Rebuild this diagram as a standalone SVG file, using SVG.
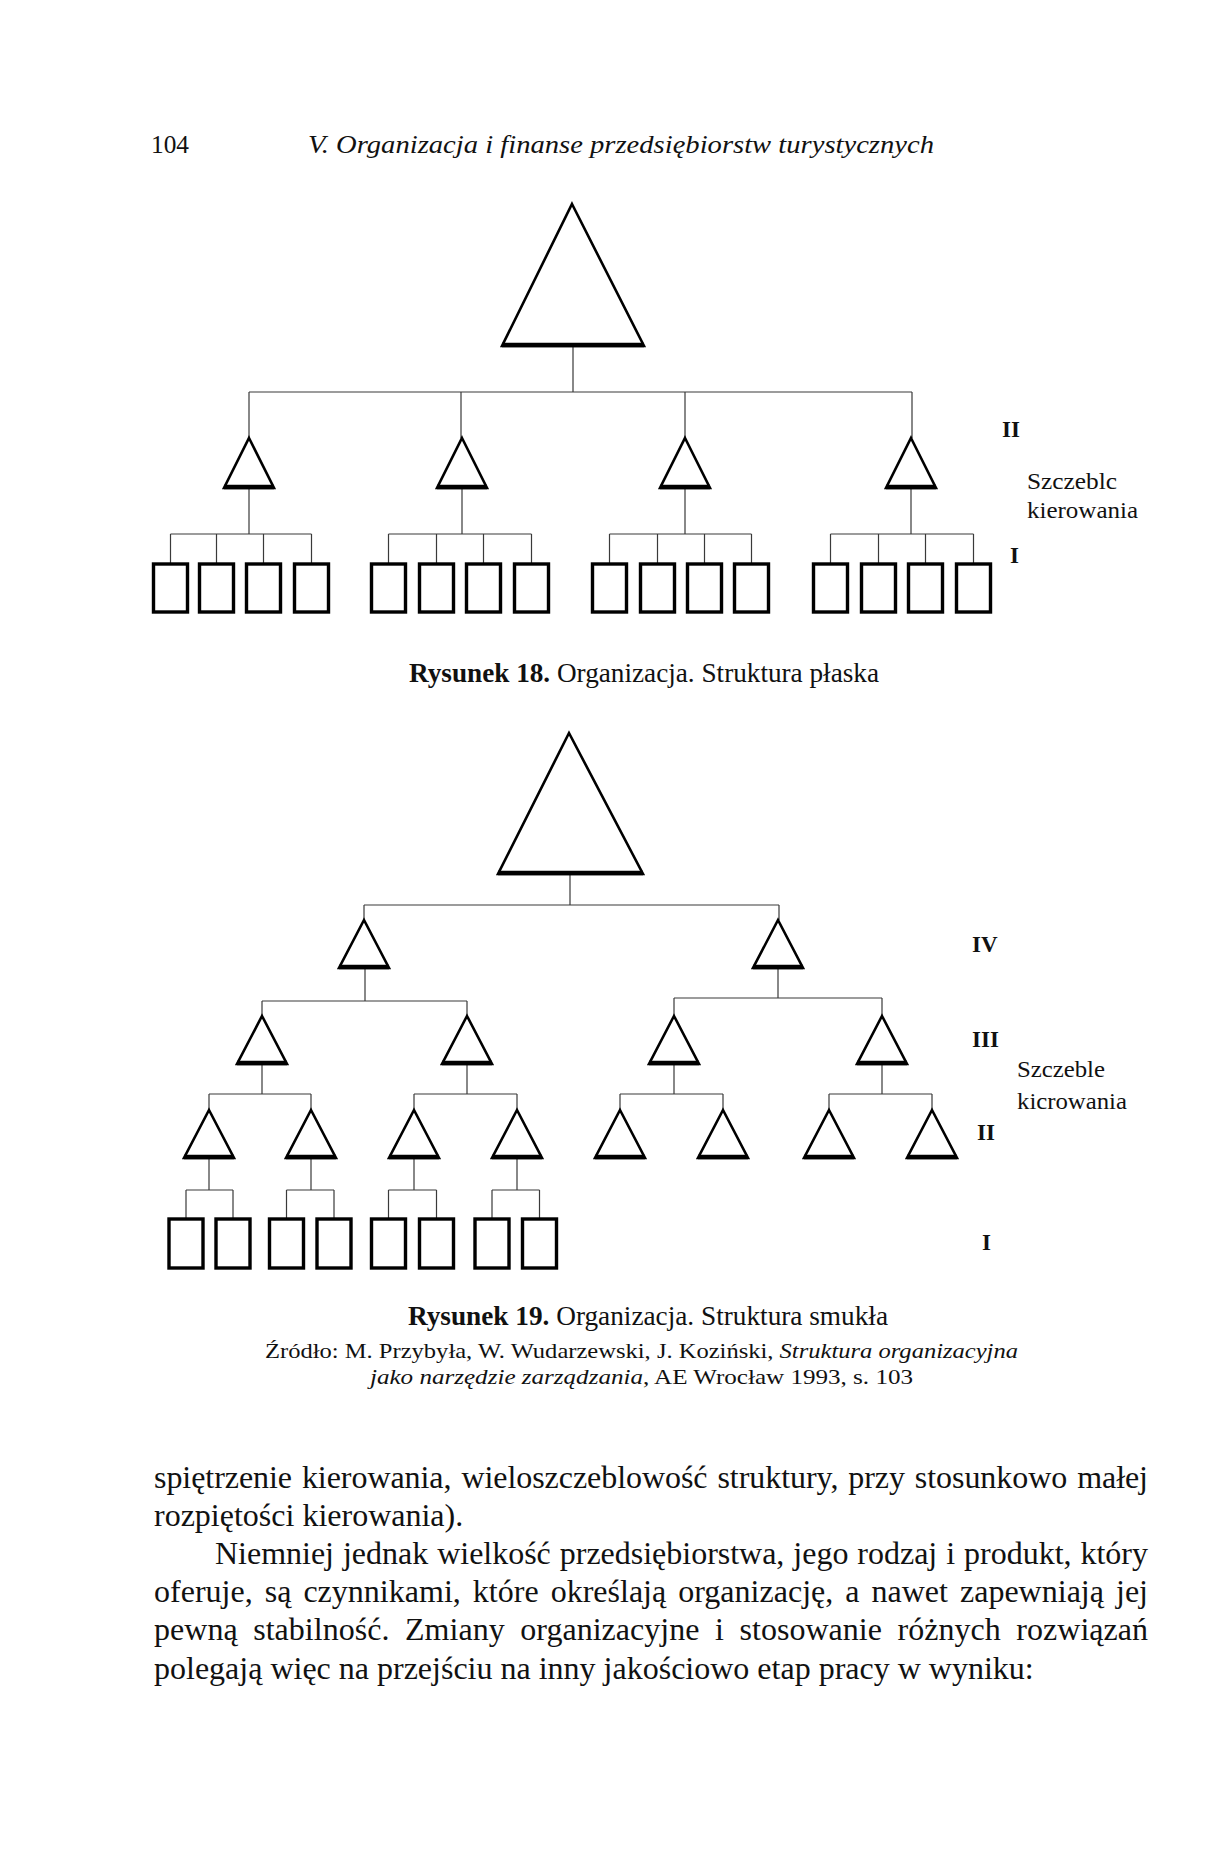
<svg xmlns="http://www.w3.org/2000/svg" width="1208" height="1857" viewBox="0 0 1208 1857">
<style>
text{font-family:"Liberation Serif","Times New Roman",serif;fill:#111}
.hdr{font-size:25px}
.it{font-style:italic}
.b{font-weight:bold}
.lvl{font-size:23px;font-weight:bold}
.lab{font-size:24px}
.cap{font-size:27px}
.src{font-size:22px}
.body{font-size:32px}
.tri{fill:#fff;stroke:#000;stroke-width:2.6;stroke-linejoin:miter}
.base{stroke:#000;stroke-width:4.5}
.box{fill:#fff;stroke:#000;stroke-width:3.4}
.con{fill:none;stroke:#3a3a3a;stroke-width:1.2}
</style>
<rect width="1208" height="1857" fill="#fff"/>

<!-- Header -->
<text class="hdr" x="151" y="153" textLength="38" lengthAdjust="spacingAndGlyphs">104</text>
<text class="hdr it" x="308" y="153" textLength="626" lengthAdjust="spacingAndGlyphs">V. Organizacja i finanse przedsiębiorstw turystycznych</text>

<!-- ===== Figure 18 ===== -->
<g id="fig18-connectors">
  <path class="con" d="M573 346V392M249 392H912M249 392V438M461 392V438M685 392V438M912 392V438"/>
  <path class="con" d="M249 488V534M170.5 534H311.5M170.5 534V564M216.5 534V564M263.5 534V564M311.5 534V564"/>
  <path class="con" d="M462 488V534M388.5 534H531.5M388.5 534V564M436.5 534V564M483.5 534V564M531.5 534V564"/>
  <path class="con" d="M685 488V534M609.5 534H751.5M609.5 534V564M657.5 534V564M704.5 534V564M751.5 534V564"/>
  <path class="con" d="M911 488V534M830.5 534H973.5M830.5 534V564M878.5 534V564M925.5 534V564M973.5 534V564"/>
</g>
<g id="f18-top"><polygon class="tri" points="572,204 644,346 502,346"/><line class="base" x1="502" y1="345" x2="644" y2="345"/></g>
<g id="f18-t1"><polygon class="tri" points="249,438 274,488 224,488"/><line class="base" x1="224" y1="487" x2="274" y2="487"/></g>
<g id="f18-t2"><polygon class="tri" points="462,438 487,488 437,488"/><line class="base" x1="437" y1="487" x2="487" y2="487"/></g>
<g id="f18-t3"><polygon class="tri" points="685,438 710,488 660,488"/><line class="base" x1="660" y1="487" x2="710" y2="487"/></g>
<g id="f18-t4"><polygon class="tri" points="911,438 936,488 886,488"/><line class="base" x1="886" y1="487" x2="936" y2="487"/></g>
<g id="f18-boxes">
  <rect class="box" x="153.5" y="564" width="34" height="48"/>
  <rect class="box" x="199.5" y="564" width="34" height="48"/>
  <rect class="box" x="246.5" y="564" width="34" height="48"/>
  <rect class="box" x="294.5" y="564" width="34" height="48"/>
  <rect class="box" x="371.5" y="564" width="34" height="48"/>
  <rect class="box" x="419.5" y="564" width="34" height="48"/>
  <rect class="box" x="466.5" y="564" width="34" height="48"/>
  <rect class="box" x="514.5" y="564" width="34" height="48"/>
  <rect class="box" x="592.5" y="564" width="34" height="48"/>
  <rect class="box" x="640.5" y="564" width="34" height="48"/>
  <rect class="box" x="687.5" y="564" width="34" height="48"/>
  <rect class="box" x="734.5" y="564" width="34" height="48"/>
  <rect class="box" x="813.5" y="564" width="34" height="48"/>
  <rect class="box" x="861.5" y="564" width="34" height="48"/>
  <rect class="box" x="908.5" y="564" width="34" height="48"/>
  <rect class="box" x="956.5" y="564" width="34" height="48"/>
</g>
<g id="f18-labels">
  <text class="lvl" x="1002" y="437">II</text>
  <text class="lab" x="1027" y="489" textLength="90" lengthAdjust="spacingAndGlyphs">Szczeblc</text>
  <text class="lab" x="1027" y="518" textLength="111" lengthAdjust="spacingAndGlyphs">kierowania</text>
  <text class="lvl" x="1010" y="563">I</text>
</g>
<text class="cap" x="409" y="682" textLength="470" lengthAdjust="spacingAndGlyphs"><tspan class="b">Rysunek 18.</tspan> Organizacja. Struktura płaska</text>

<!-- ===== Figure 19 ===== -->
<g id="fig19-connectors">
  <path class="con" d="M570 874V905M364 905H779M364 905V920M779 905V920"/>
  <path class="con" d="M365 968V1001M262 1001H467M262 1001V1016M467 1001V1016"/>
  <path class="con" d="M778 968V998M674 998H882M674 998V1016M882 998V1016"/>
  <path class="con" d="M262 1064V1094M209 1094H311M209 1094V1110M311 1094V1110"/>
  <path class="con" d="M467 1064V1094M414 1094H517M414 1094V1110M517 1094V1110"/>
  <path class="con" d="M674 1064V1094M620 1094H723M620 1094V1110M723 1094V1110"/>
  <path class="con" d="M882 1064V1094M829 1094H932M829 1094V1110M932 1094V1110"/>
  <path class="con" d="M209 1158V1190M186 1190H233M186 1190V1219M233 1190V1219"/>
  <path class="con" d="M311 1158V1190M286.5 1190H334M286.5 1190V1219M334 1190V1219"/>
  <path class="con" d="M414 1158V1190M388.5 1190H436.5M388.5 1190V1219M436.5 1190V1219"/>
  <path class="con" d="M517 1158V1190M492 1190H539.5M492 1190V1219M539.5 1190V1219"/>
</g>
<g id="f19-top"><polygon class="tri" points="569,733 643,874 498,874"/><line class="base" x1="498" y1="873" x2="643" y2="873"/></g>
<g id="f19-iv1"><polygon class="tri" points="364,920 389,968 339,968"/><line class="base" x1="339" y1="967" x2="389" y2="967"/></g>
<g id="f19-iv2"><polygon class="tri" points="778,920 803,968 753,968"/><line class="base" x1="753" y1="967" x2="803" y2="967"/></g>
<g id="f19-iii1"><polygon class="tri" points="262,1016 287,1064 237,1064"/><line class="base" x1="237" y1="1063" x2="287" y2="1063"/></g>
<g id="f19-iii2"><polygon class="tri" points="467,1016 492,1064 442,1064"/><line class="base" x1="442" y1="1063" x2="492" y2="1063"/></g>
<g id="f19-iii3"><polygon class="tri" points="674,1016 699,1064 649,1064"/><line class="base" x1="649" y1="1063" x2="699" y2="1063"/></g>
<g id="f19-iii4"><polygon class="tri" points="882,1016 907,1064 857,1064"/><line class="base" x1="857" y1="1063" x2="907" y2="1063"/></g>
<g id="f19-ii1"><polygon class="tri" points="209,1110 234,1158 184,1158"/><line class="base" x1="184" y1="1157" x2="234" y2="1157"/></g>
<g id="f19-ii2"><polygon class="tri" points="311,1110 336,1158 286,1158"/><line class="base" x1="286" y1="1157" x2="336" y2="1157"/></g>
<g id="f19-ii3"><polygon class="tri" points="414,1110 439,1158 389,1158"/><line class="base" x1="389" y1="1157" x2="439" y2="1157"/></g>
<g id="f19-ii4"><polygon class="tri" points="517,1110 542,1158 492,1158"/><line class="base" x1="492" y1="1157" x2="542" y2="1157"/></g>
<g id="f19-ii5"><polygon class="tri" points="620,1110 645,1158 595,1158"/><line class="base" x1="595" y1="1157" x2="645" y2="1157"/></g>
<g id="f19-ii6"><polygon class="tri" points="723,1110 748,1158 698,1158"/><line class="base" x1="698" y1="1157" x2="748" y2="1157"/></g>
<g id="f19-ii7"><polygon class="tri" points="829,1110 854,1158 804,1158"/><line class="base" x1="804" y1="1157" x2="854" y2="1157"/></g>
<g id="f19-ii8"><polygon class="tri" points="932,1110 957,1158 907,1158"/><line class="base" x1="907" y1="1157" x2="957" y2="1157"/></g>
<g id="f19-boxes">
  <rect class="box" x="169" y="1219" width="34" height="49"/>
  <rect class="box" x="216" y="1219" width="34" height="49"/>
  <rect class="box" x="269.5" y="1219" width="34" height="49"/>
  <rect class="box" x="317" y="1219" width="34" height="49"/>
  <rect class="box" x="371.5" y="1219" width="34" height="49"/>
  <rect class="box" x="419.5" y="1219" width="34" height="49"/>
  <rect class="box" x="475" y="1219" width="34" height="49"/>
  <rect class="box" x="522.5" y="1219" width="34" height="49"/>
</g>
<g id="f19-labels">
  <text class="lvl" x="972" y="952">IV</text>
  <text class="lvl" x="972" y="1047">III</text>
  <text class="lab" x="1017" y="1077" textLength="88" lengthAdjust="spacingAndGlyphs">Szczeble</text>
  <text class="lab" x="1017" y="1109" textLength="110" lengthAdjust="spacingAndGlyphs">kicrowania</text>
  <text class="lvl" x="977" y="1140">II</text>
  <text class="lvl" x="982" y="1250">I</text>
</g>
<text class="cap" x="408" y="1325" textLength="480" lengthAdjust="spacingAndGlyphs"><tspan class="b">Rysunek 19.</tspan> Organizacja. Struktura smukła</text>
<text class="src" x="265" y="1358" textLength="753" lengthAdjust="spacingAndGlyphs">Źródło: M. Przybyła, W. Wudarzewski, J. Koziński, <tspan class="it">Struktura organizacyjna</tspan></text>
<text class="src" x="370" y="1384" textLength="543" lengthAdjust="spacingAndGlyphs"><tspan class="it">jako narzędzie zarządzania</tspan>, AE Wrocław 1993, s. 103</text>

<!-- Body text -->
<text class="body" x="154" y="1488" word-spacing="2" textLength="994" lengthAdjust="spacing">spiętrzenie kierowania, wieloszczeblowość struktury, przy stosunkowo małej</text>
<text class="body" x="154" y="1526">rozpiętości kierowania).</text>
<text class="body" x="215" y="1564" word-spacing="1" textLength="933" lengthAdjust="spacing">Niemniej jednak wielkość przedsiębiorstwa, jego rodzaj i produkt, który</text>
<text class="body" x="154" y="1602" word-spacing="4" textLength="994" lengthAdjust="spacing">oferuje, są czynnikami, które określają organizację, a nawet zapewniają jej</text>
<text class="body" x="154" y="1640" word-spacing="7.5" textLength="994" lengthAdjust="spacing">pewną stabilność. Zmiany organizacyjne i stosowanie różnych rozwiązań</text>
<text class="body" x="154" y="1679">polegają więc na przejściu na inny jakościowo etap pracy w wyniku:</text>
</svg>
